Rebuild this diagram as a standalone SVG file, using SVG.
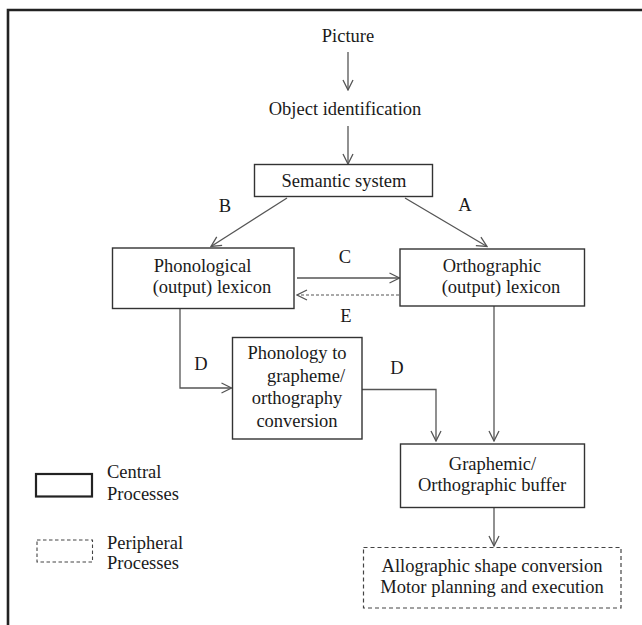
<svg xmlns="http://www.w3.org/2000/svg" width="642" height="625" viewBox="0 0 642 625">
<defs>
<marker id="ah" viewBox="0 0 12 12" refX="11" refY="6" markerWidth="12" markerHeight="12" markerUnits="userSpaceOnUse" orient="auto">
<path d="M1,1 L11,6 L1,11" fill="none" stroke="#555" stroke-width="1.3"/>
</marker>
</defs>
<rect width="642" height="625" fill="#fff"/>
<path d="M8,625 V10 H642" fill="none" stroke="#222" stroke-width="2.6"/>
<g font-family="Times New Roman, Tinos, Liberation Serif, serif" font-size="18.5" fill="#1a1a1a" text-anchor="middle">
<g id="connectors">
<g fill="none" stroke="#555" stroke-width="1.3" marker-end="url(#ah)">
<line x1="348" y1="52" x2="348" y2="90"/>
<line x1="348" y1="126" x2="348" y2="164"/>
<line x1="287" y1="198" x2="211" y2="246.5"/>
<line x1="405" y1="198" x2="487" y2="246.5"/>
<line x1="297" y1="278" x2="399.5" y2="278"/>
<line x1="399" y1="295" x2="297" y2="295" stroke-width="1.2" stroke-dasharray="3 2"/>
<polyline points="180,309 180,388 231.5,388"/>
<polyline points="362,389.5 436,389.5 436,441"/>
<line x1="494" y1="306" x2="494" y2="441"/>
<line x1="494" y1="507.5" x2="494" y2="546"/>
</g>
<text x="225" y="212">B</text>
<text x="465" y="211">A</text>
<text x="345" y="263">C</text>
<text x="346" y="322">E</text>
<text x="201" y="370">D</text>
<text x="397" y="374">D</text>
</g>
<g id="picture"><text x="348" y="42">Picture</text></g>
<g id="object"><text x="345" y="115">Object identification</text></g>
<g id="semantic">
<rect x="254.5" y="164.5" width="178" height="32" fill="#fff" stroke="#333" stroke-width="1.4"/>
<text x="344" y="187">Semantic system</text>
</g>
<g id="phonological">
<rect x="112.5" y="248" width="181.5" height="60.5" fill="#fff" stroke="#333" stroke-width="1.4"/>
<text x="202.5" y="272">Phonological</text>
<text x="212" y="293">(output) lexicon</text>
</g>
<g id="orthographic">
<rect x="400" y="249" width="184.5" height="57" fill="#fff" stroke="#333" stroke-width="1.4"/>
<text x="492" y="272">Orthographic</text>
<text x="501" y="293">(output) lexicon</text>
</g>
<g id="p2g">
<rect x="232.5" y="337.5" width="129.5" height="101.5" fill="#fff" stroke="#333" stroke-width="1.4"/>
<text x="297" y="359">Phonology to</text>
<text x="306" y="382">grapheme/</text>
<text x="297" y="404">orthography</text>
<text x="297" y="427">conversion</text>
</g>
<g id="buffer">
<rect x="400.5" y="444" width="184" height="63.5" fill="#fff" stroke="#333" stroke-width="1.4"/>
<text x="492.5" y="470">Graphemic/</text>
<text x="492" y="491">Orthographic buffer</text>
</g>
<g id="allographic">
<rect x="363.5" y="547.5" width="257.5" height="60.5" fill="#fff" stroke="#444" stroke-width="1.2" stroke-dasharray="4 3"/>
<text x="492" y="572">Allographic shape conversion</text>
<text x="492" y="593">Motor planning and execution</text>
</g>
<g id="legend" text-anchor="start">
<rect x="36" y="474" width="56" height="22.5" fill="#fff" stroke="#222" stroke-width="2.2"/>
<text x="107" y="478">Central</text>
<text x="107" y="499.5">Processes</text>
<rect x="37" y="540" width="55.5" height="22" fill="#fff" stroke="#444" stroke-width="1.1" stroke-dasharray="3.5 2.5"/>
<text x="107" y="548.5">Peripheral</text>
<text x="107" y="568.5">Processes</text>
</g>
</g>
</svg>
